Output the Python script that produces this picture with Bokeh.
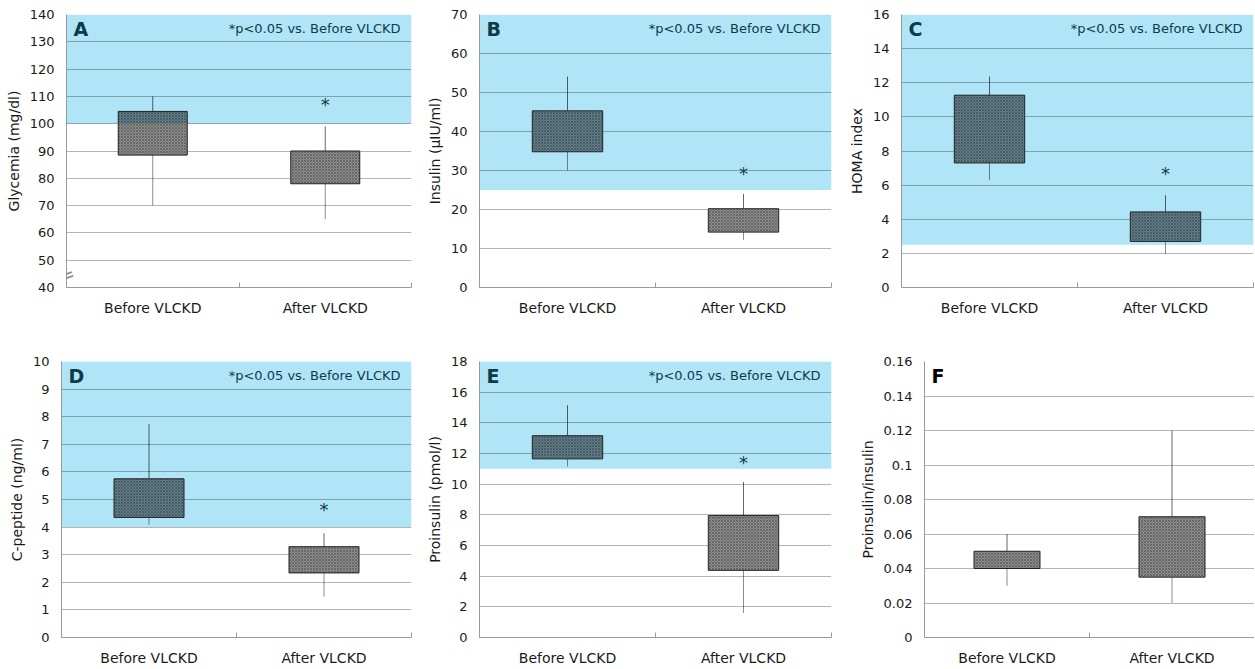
from bokeh.plotting import figure
from bokeh.layouts import column, row
from bokeh.models import (Range1d, FixedTicker, BoxAnnotation, Label,
                          NumeralTickFormatter, ColumnDataSource)
from bokeh.core.properties import value
from bokeh.embed import file_html
from bokeh.resources import INLINE
import math

# ---------------- data ----------------
categories = ["Before VLCKD", "After VLCKD"]
panel_letters = ["A", "B", "C", "D", "E", "F"]
y_titles = ["Glycemia (mg/dl)", "Insulin (µIU/ml)", "HOMA index",
            "C-peptide (ng/ml)", "Proinsulin (pmol/l)", "Proinsulin/insulin"]

glycemia_low = [70, 65]
glycemia_q1 = [88.5, 78]
glycemia_q3 = [104.5, 90]
glycemia_high = [110, 99]

insulin_low = [30, 12.2]
insulin_q1 = [34.8, 14.2]
insulin_q3 = [45.3, 20.2]
insulin_high = [54.1, 24.0]

homa_low = [6.3, 1.96]
homa_q1 = [7.3, 2.7]
homa_q3 = [11.27, 4.43]
homa_high = [12.37, 5.41]

cpeptide_low = [4.09, 1.48]
cpeptide_q1 = [4.35, 2.34]
cpeptide_q3 = [5.75, 3.29]
cpeptide_high = [7.74, 3.78]

proinsulin_low = [11.15, 1.6]
proinsulin_q1 = [11.65, 4.38]
proinsulin_q3 = [13.16, 7.95]
proinsulin_high = [15.15, 10.15]

ratio_low = [0.03, 0.02]
ratio_q1 = [0.04, 0.035]
ratio_q3 = [0.05, 0.07]
ratio_high = [0.06, 0.12]

star_y = [107, 29.2, 6.7, 4.63, 11.4, None]
shade_from = [100, 25, 2.5, 4, 11, None]

y_ticks_A = [40, 50, 60, 70, 80, 90, 100, 110, 120, 130, 140]
y_ticks_B = [0, 10, 20, 30, 40, 50, 60, 70]
y_ticks_C = [0, 2, 4, 6, 8, 10, 12, 14, 16]
y_ticks_D = [0, 1, 2, 3, 4, 5, 6, 7, 8, 9, 10]
y_ticks_E = [0, 2, 4, 6, 8, 10, 12, 14, 16, 18]
y_ticks_F = [0, 0.02, 0.04, 0.06, 0.08, 0.1, 0.12, 0.14, 0.16]

p_text = "*p<0.05 vs. Before VLCKD"

series = [
    (glycemia_low, glycemia_q1, glycemia_q3, glycemia_high, y_ticks_A),
    (insulin_low, insulin_q1, insulin_q3, insulin_high, y_ticks_B),
    (homa_low, homa_q1, homa_q3, homa_high, y_ticks_C),
    (cpeptide_low, cpeptide_q1, cpeptide_q3, cpeptide_high, y_ticks_D),
    (proinsulin_low, proinsulin_q1, proinsulin_q3, proinsulin_high, y_ticks_E),
    (ratio_low, ratio_q1, ratio_q3, ratio_high, y_ticks_F),
]

# layout: (width, height, left, right, top, bottom)
sizes = [
    (420, 333, 66, 9, 14, 46),
    (420, 333, 59, 9, 14, 46),
    (414, 333, 61, 1, 14, 46),
    (420, 335, 61, 9, 28, 31),
    (420, 335, 59, 9, 28, 31),
    (414, 335, 84, 0, 28, 31),
]

FONT_NAME = "DejaVu Sans"
FONT = value(FONT_NAME)
AXIS = "#9a9a9a"
TXT = "#1a1a1a"
DARK = "#0c3b4a"
BAND = "#b0e5f7"


def make_panel(i):
    low, q1, q3, high, yt = series[i]
    w, h, bl, br, bt, bb = sizes[i]
    thr = shade_from[i]
    p = figure(width=w, height=h, output_backend="svg", toolbar_location=None,
               x_range=Range1d(0, len(categories)),
               y_range=Range1d(yt[0], yt[-1]),
               min_border_left=bl, min_border_right=br,
               min_border_top=bt, min_border_bottom=bb)
    p.outline_line_color = None
    p.background_fill_color = "white"
    p.xgrid.visible = False
    p.ygrid.grid_line_color = "black"
    p.ygrid.grid_line_alpha = 0.29
    p.ygrid.grid_line_width = 1

    if thr is not None:
        p.add_layout(BoxAnnotation(bottom=thr, fill_color=BAND,
                                   fill_alpha=1.0, line_alpha=0, level="image"))

    # y axis
    p.yaxis.ticker = FixedTicker(ticks=yt)
    if i == 5:
        p.yaxis.formatter = NumeralTickFormatter(format="0.[00]")
    p.yaxis.axis_label = y_titles[i]
    p.yaxis.axis_label_text_font = FONT_NAME
    p.yaxis.axis_label_text_font_style = "normal"
    p.yaxis.axis_label_text_font_size = "14px"
    p.yaxis.axis_label_text_color = TXT
    p.yaxis.axis_label_standoff = 5
    p.yaxis.major_label_text_font = FONT_NAME
    p.yaxis.major_label_text_font_size = "13px"
    p.yaxis.major_label_text_color = TXT
    p.yaxis.major_label_standoff = 12
    p.yaxis.major_tick_line_color = None
    p.yaxis.major_tick_in = 0
    p.yaxis.major_tick_out = 0
    p.yaxis.minor_tick_line_color = None
    p.yaxis.minor_tick_in = 0
    p.yaxis.minor_tick_out = 0
    p.yaxis.axis_line_color = AXIS

    # x axis
    centers = [k + 0.5 for k in range(len(categories))]
    p.xaxis.ticker = FixedTicker(ticks=centers,
                                 minor_ticks=list(range(len(categories) + 1)))
    p.xaxis.major_label_overrides = {c: lab for c, lab in zip(centers, categories)}
    p.xaxis.major_label_text_font = FONT_NAME
    p.xaxis.major_label_text_font_size = "14px"
    p.xaxis.major_label_text_color = TXT
    p.xaxis.major_label_standoff = 12
    p.xaxis.major_tick_line_color = None
    p.xaxis.major_tick_in = 0
    p.xaxis.major_tick_out = 0
    p.xaxis.minor_tick_in = 5
    p.xaxis.minor_tick_out = 0
    p.xaxis.minor_tick_line_color = AXIS
    p.xaxis.axis_line_color = AXIS

    src = ColumnDataSource(dict(x=centers, low=low, q1=q1, q3=q3, high=high))
    # whiskers (lower and upper)
    p.segment(x0="x", y0="low", x1="x", y1="q1", source=src,
              line_color="black", line_alpha=0.45, line_width=1)
    p.segment(x0="x", y0="q3", x1="x", y1="high", source=src,
              line_color="black", line_alpha=0.6, line_width=1)
    # opaque base of the boxes (hides grid lines), tinted where shaded
    p.vbar(x="x", width=0.4, bottom="q1", top="q3", source=src,
           fill_color="white", line_color=None)
    if thr is not None:
        shaded_bottom = [max(v, thr) for v in q1]
        shaded_top = [max(v, thr) for v in q3]
        p.vbar(x=centers, width=0.4, bottom=shaded_bottom, top=shaded_top,
               fill_color=BAND, line_color=None)
    # patterned box
    p.vbar(x="x", width=0.4, bottom="q1", top="q3", source=src,
           fill_color="black", fill_alpha=0.44, line_color="#222222",
           line_width=1, hatch_pattern="x", hatch_scale=3, hatch_weight=0.8,
           hatch_color="black", hatch_alpha=0.35)

    ymax = yt[-1]
    tcol = DARK if thr is not None else "black"
    p.text(x=[0], y=[ymax], text=[panel_letters[i]], x_offset=7, y_offset=14,
           text_font=FONT, text_font_style="bold", text_font_size="19px",
           text_color=tcol, text_baseline="middle", text_align="left")

    if star_y[i] is not None:
        p.text(x=[len(categories)], y=[ymax], text=[p_text], x_offset=-11,
               y_offset=14, text_font=FONT, text_font_size="13px",
               text_color=tcol, text_baseline="middle", text_align="right")
        p.text(x=[centers[1]], y=[star_y[i]], text=["*"], text_font=FONT,
               text_font_size="18px", text_color=tcol,
               text_baseline="middle", text_align="center")

    if i == 0:
        p.add_layout(Label(x=0, y=yt[0] + 4.5, text="=", angle=math.radians(20),
                           text_font=FONT_NAME, text_font_size="20px",
                           text_color="#8a8a8a", text_align="center",
                           text_baseline="middle"))
    return p


panels = [make_panel(i) for i in range(6)]
layout = column(row(*panels[:3]), row(*panels[3:]))

open("out.html", "w").write(file_html(layout, INLINE))
